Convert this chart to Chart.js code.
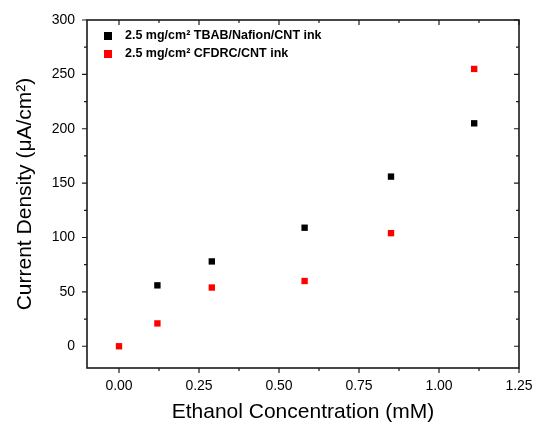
<!DOCTYPE html>
<html lang="en">
<head>
    <meta charset="UTF-8">
    <title>Current Density vs Ethanol Concentration</title>
    <script src="https://cdn.jsdelivr.net/npm/chart.js"></script>
    <style>
        html, body { margin: 0; padding: 0; background: #fff; }
        .chart-container { position: relative; width: 536px; height: 429px; }
    </style>
</head>
<body>
    <div class="chart-container">
        <canvas id="densityChart"></canvas>
    </div>
    <script>
        // data
        const seriesLabels = ['2.5 mg/cm\u00B2 TBAB/Nafion/CNT ink', '2.5 mg/cm\u00B2 CFDRC/CNT ink'];
        const tbabConc = [0.12, 0.29, 0.58, 0.85, 1.11];
        const tbabDensity = [56, 78, 109, 156, 205];
        const cfdrcConc = [0, 0.12, 0.29, 0.58, 0.85, 1.11];
        const cfdrcDensity = [0, 21, 54, 60, 104, 255];
        const seriesColors = ['#000000', '#ff0000'];
        const xTickValues = [0, 0.25, 0.5, 0.75, 1.0, 1.25];
        const yTickValues = [0, 50, 100, 150, 200, 250, 300];

        const xMin = -0.1, xMax = 1.25;
        const yMin = -20, yMax = 300;

        const toPoints = (xs, ys) => xs.map((x, i) => ({ x: x, y: ys[i] }));

        // frame, mirrored ticks, minor ticks and the inset legend
        const framePlugin = {
            id: 'frame',
            afterDraw(chart) {
                const ctx = chart.ctx;
                const area = chart.chartArea;
                const xs = chart.scales.x, ys = chart.scales.y;
                const major = 5, minor = 3;
                ctx.save();
                ctx.strokeStyle = '#1a1a1a';
                ctx.lineWidth = 1.6;
                ctx.strokeRect(area.left, area.top, area.right - area.left, area.bottom - area.top);
                ctx.lineWidth = 1.2;
                ctx.beginPath();
                xTickValues.forEach((v, i) => {
                    const px = xs.getPixelForValue(v);
                    ctx.moveTo(px, area.bottom); ctx.lineTo(px, area.bottom + major);
                    ctx.moveTo(px, area.top); ctx.lineTo(px, area.top + major);
                    if (i < xTickValues.length - 1) {
                        const pm = xs.getPixelForValue((v + xTickValues[i + 1]) / 2);
                        ctx.moveTo(pm, area.bottom); ctx.lineTo(pm, area.bottom + minor);
                        ctx.moveTo(pm, area.top); ctx.lineTo(pm, area.top + minor);
                    }
                });
                yTickValues.forEach((v, i) => {
                    const py = ys.getPixelForValue(v);
                    ctx.moveTo(area.left, py); ctx.lineTo(area.left - major, py);
                    ctx.moveTo(area.right, py); ctx.lineTo(area.right - major, py);
                    if (i < yTickValues.length - 1) {
                        const pm = ys.getPixelForValue((v + yTickValues[i + 1]) / 2);
                        ctx.moveTo(area.left, pm); ctx.lineTo(area.left - minor, pm);
                        ctx.moveTo(area.right, pm); ctx.lineTo(area.right - minor, pm);
                    }
                });
                ctx.stroke();

                // legend
                ctx.font = 'bold 12.5px "Liberation Sans", Arial, sans-serif';
                ctx.textBaseline = 'middle';
                chart.data.datasets.forEach((ds, i) => {
                    const ly = area.top + 16 + i * 18;
                    ctx.fillStyle = ds.backgroundColor;
                    ctx.fillRect(area.left + 17, ly - 4, 8, 8);
                    ctx.fillStyle = '#000';
                    ctx.fillText(ds.label, area.left + 38, ly);
                });
                ctx.restore();
            }
        };

        const ctx = document.getElementById('densityChart').getContext('2d');
        new Chart(ctx, {
            type: 'scatter',
            data: {
                datasets: [
                    {
                        label: seriesLabels[0],
                        data: toPoints(tbabConc, tbabDensity),
                        backgroundColor: seriesColors[0],
                        borderColor: seriesColors[0],
                        pointStyle: 'rect',
                        pointRadius: 4.5,
                        borderWidth: 0
                    },
                    {
                        label: seriesLabels[1],
                        data: toPoints(cfdrcConc, cfdrcDensity),
                        backgroundColor: seriesColors[1],
                        borderColor: seriesColors[1],
                        pointStyle: 'rect',
                        pointRadius: 4.5,
                        borderWidth: 0
                    }
                ]
            },
            options: {
                responsive: true,
                maintainAspectRatio: false,
                animation: false,
                layout: { padding: { left: 9, top: 20, right: 17, bottom: 0 } },
                scales: {
                    x: {
                        type: 'linear',
                        min: xMin,
                        max: xMax,
                        afterBuildTicks: (scale) => {
                            scale.ticks = xTickValues.map(v => ({ value: v }));
                        },
                        afterFit: (scale) => { scale.height = 61; },
                        grid: { display: false },
                        border: { display: false },
                        ticks: {
                            color: '#000',
                            padding: 2,
                            font: { family: '"Liberation Sans", Arial, sans-serif', size: 14 },
                            callback: (v) => Number(v).toFixed(2)
                        },
                        title: {
                            display: true,
                            text: 'Ethanol Concentration (mM)',
                            color: '#000',
                            padding: { top: 4 },
                            font: { family: '"Liberation Sans", Arial, sans-serif', size: 21 }
                        }
                    },
                    y: {
                        type: 'linear',
                        min: yMin,
                        max: yMax,
                        afterBuildTicks: (scale) => {
                            scale.ticks = yTickValues.map(v => ({ value: v }));
                        },
                        afterFit: (scale) => { scale.width = 78; },
                        grid: { display: false },
                        border: { display: false },
                        ticks: {
                            color: '#000',
                            padding: 4,
                            font: { family: '"Liberation Sans", Arial, sans-serif', size: 14 }
                        },
                        title: {
                            display: true,
                            text: 'Current Density (\u03BCA/cm\u00B2)',
                            color: '#000',
                            padding: { bottom: 2 },
                            font: { family: '"Liberation Sans", Arial, sans-serif', size: 21 }
                        }
                    }
                },
                plugins: {
                    legend: { display: false },
                    tooltip: { enabled: false }
                }
            },
            plugins: [framePlugin]
        });
    </script>
</body>
</html>
